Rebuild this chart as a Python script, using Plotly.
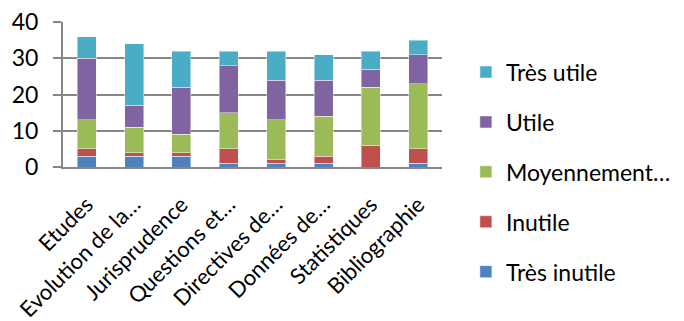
import plotly.graph_objects as go

categories = ["Etudes", "Evolution de la…", "Jurisprudence", "Questions et…",
              "Directives de…", "Données de…", "Statistiques", "Bibliographie"]

tres_inutile = [3, 3, 3, 1, 1, 1, 0, 1]
inutile = [2, 1, 1, 4, 1, 2, 6, 4]
moyennement = [8, 7, 5, 10, 11, 11, 16, 18]
utile = [17, 6, 13, 13, 11, 10, 5, 8]
tres_utile = [6, 17, 10, 4, 8, 7, 5, 4]

series = [
    ("Très inutile", tres_inutile, "#4F81BD"),
    ("Inutile", inutile, "#C0504D"),
    ("Moyennement…", moyennement, "#9BBB59"),
    ("Utile", utile, "#8064A2"),
    ("Très utile", tres_utile, "#4BACC6"),
]

y_ticks = [0, 10, 20, 30, 40]

FONT = "Lato, 'Open Sans', sans-serif"

fig = go.Figure()
for i, (name, vals, color) in enumerate(series):
    fig.add_trace(go.Bar(
        x=categories, y=vals, name=name, legendgroup=name,
        legendrank=len(series) - i,
        marker=dict(color=color, line=dict(color="rgba(255,255,255,0.45)", width=1)),
    ))

fig.update_layout(
    barmode="stack",
    bargap=0.6,
    width=684, height=321,
    margin=dict(l=63, r=242, t=22, b=154, autoexpand=False),
    paper_bgcolor="white", plot_bgcolor="white",
    font=dict(family=FONT, size=22, color="#000000"),
    legend=dict(
        x=1.063, y=-0.035, xanchor="left", yanchor="middle",
        tracegroupgap=17, maxheight=1.0,
        font=dict(size=23), itemwidth=30,
    ),
    xaxis=dict(
        tickangle=-45, showline=True, linecolor="#868686", linewidth=2,
        ticks="", showgrid=False, tickfont=dict(size=22),
        ticklabelstandoff=14, automargin=False,
    ),
    yaxis=dict(
        range=[0, 40], tickvals=y_ticks, showline=True, linecolor="#868686", linewidth=2,
        ticks="outside", ticklen=8, tickcolor="#868686", tickwidth=2,
        showgrid=True, gridcolor="#868686", gridwidth=2, zeroline=False,
        tickfont=dict(size=23), ticklabelstandoff=10, automargin=False,
    ),
)

fig.write_html("out.html")
